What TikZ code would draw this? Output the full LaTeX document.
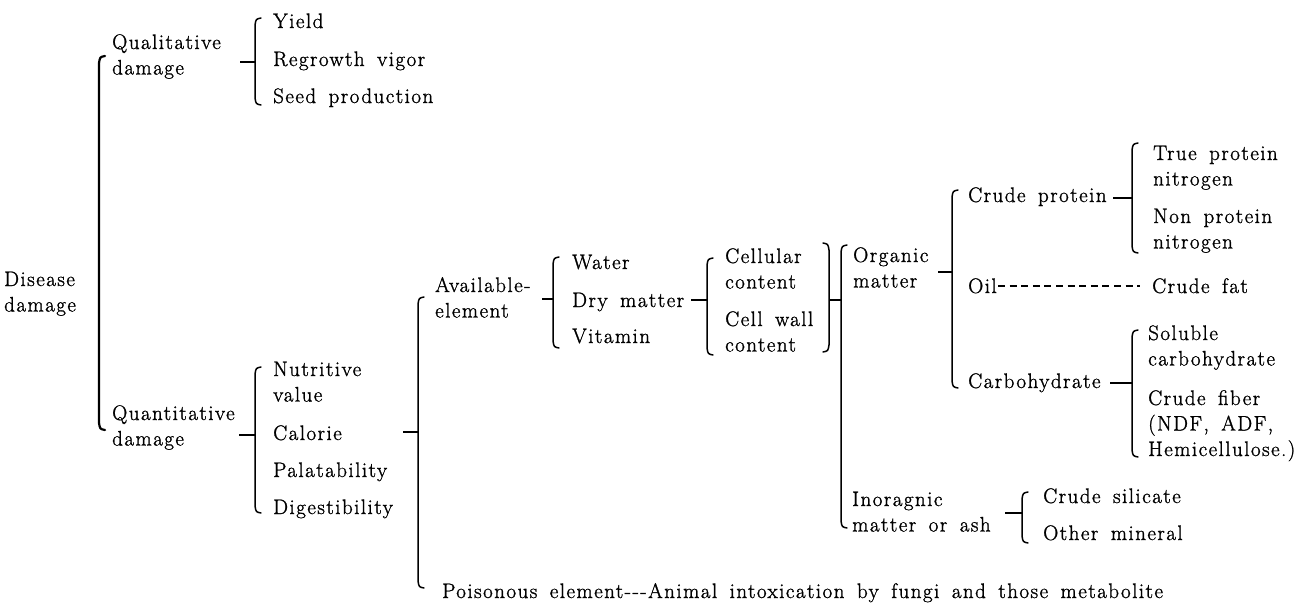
\documentclass[tikz,border=0pt]{standalone}
\usepackage{fontspec}
\setmainfont{Latin Modern Roman}[LetterSpace=7, WordSpace=1.6, FakeBold=1.2]
\newcommand\mlines[1]{\begin{tabular}[t]{@{}l@{}}#1\end{tabular}}
\newcommand\lbrk[3]{\draw[brk] ({#1+6},{#2}) .. controls ({#1+1},{#2+1}) .. ({#1},{#2+7}) -- ({#1},{#3-7}) .. controls ({#1+1},{#3-1}) .. ({#1+6},{#3});}
\newcommand\rbrk[3]{\draw[brk] ({#1-6},{#2}) .. controls ({#1-1},{#2+1}) .. ({#1},{#2+7}) -- ({#1},{#3-7}) .. controls ({#1-1},{#3-1}) .. ({#1-6},{#3});}
\tikzset{
  txt/.style={anchor=base west, inner sep=0pt, font=\fontsize{21}{25.5}\selectfont},
  brk/.style={line width=1.5pt, line cap=round},
  tick/.style={line width=1.5pt},
}
\begin{document}
\begin{tikzpicture}[x=1pt,y=-1pt]
\useasboundingbox[fill=white] (0,0) rectangle (1298,608);
% level 0
\node[txt] (dis) at (4,286) {\mlines{Disease\\damage}};
\draw[brk, line width=2.2pt] (105,56) .. controls (100,57) .. (99,63) -- (99,423) .. controls (100,429) .. (105,430);
% qualitative
\node[txt] (qual) at (112,49) {\mlines{Qualitative\\damage}};
\coordinate (qualt) at (240,62);
\coordinate (b2m) at (255,62);
\draw[tick] (qualt) -- (b2m);
\lbrk{255}{18}{105}
\node[txt] (yield) at (273,28) {Yield};
\node[txt] (regr) at (273,66) {Regrowth vigor};
\node[txt] (seed) at (273,103) {Seed production};
% quantitative
\node[txt] (quan) at (112,420) {\mlines{Quantitative\\damage}};
\coordinate (quant) at (239,435);
\coordinate (b3m) at (255,435);
\draw[tick] (quant) -- (b3m);
\lbrk{255}{367}{513}
\node[txt] (nutr) at (273,376) {\mlines{Nutritive\\value}};
\node[txt] (calo) at (273,440) {Calorie};
\node[txt] (pala) at (273,477) {Palatability};
\node[txt] (dige) at (273,514) {Digestibility};
\coordinate (b3r) at (403,432);
\coordinate (b4m) at (418,432);
\draw[tick] (b3r) -- (b4m);
\lbrk{418}{297}{588}
% available element
\node[txt] (avail) at (435,292) {\mlines{Available-\\element}};
\coordinate (availt) at (542,299);
\coordinate (b5m) at (553,299);
\draw[tick] (availt) -- (b5m);
\lbrk{553}{257}{348}
\node[txt] (water) at (572,269) {Water};
\node[txt] (dry) at (572,307) {Dry matter};
\node[txt] (vita) at (572,343) {Vitamin};
\coordinate (dryt) at (691,300);
\coordinate (b6m) at (707,300);
\draw[tick] (dryt) -- (b6m);
\lbrk{707}{258}{355}
\node[txt] (cell) at (725,263) {\mlines{Cellular\\content}};
\node[txt] (wall) at (725,326) {\mlines{Cell wall\\content}};
\rbrk{829}{243}{352}
\coordinate (rbm) at (829,300);
\coordinate (b7m) at (841,300);
\draw[tick] (rbm) -- (b7m);
\lbrk{841}{245}{528}
% organic matter
\node[txt] (org) at (853,262) {\mlines{Organic\\matter}};
\coordinate (orgt) at (938,272);
\coordinate (b8m) at (952,272);
\draw[tick] (orgt) -- (b8m);
\lbrk{952}{190}{388}
\node[txt] (cp) at (968,202) {Crude protein};
\node[txt] (oil) at (968,293) {Oil};
\node[txt] (carb) at (968,388) {Carbohydrate};
\coordinate (cpt) at (1113,198);
\coordinate (b9m) at (1132,198);
\draw[tick] (cpt) -- (b9m);
\lbrk{1132}{143}{253}
\node[txt] (tpn) at (1153,160) {\mlines{True protein\\nitrogen}};
\node[txt] (npn) at (1153,223) {\mlines{Non protein\\nitrogen}};
\node[txt] (fat) at (1152,293) {Crude fat};
\coordinate (oile) at (998,286);
\coordinate (fats) at (1140,286);
\draw[line width=1.3pt, dash pattern=on 7pt off 4.6pt] (oile) -- (fats);
\coordinate (carbt) at (1110,383);
\coordinate (b10m) at (1132,383);
\draw[tick] (carbt) -- (b10m);
\lbrk{1132}{330}{457}
\node[txt] (sol) at (1148,340) {\mlines{Soluble\\carbohydrate}};
\node[txt] (fib) at (1148,405) {\mlines{Crude fiber\\(NDF, ADF,\\Hemicellulose.)}};
% inorganic
\node[txt] (inorg) at (852,506) {\mlines{Inoragnic\\matter or ash}};
\coordinate (inorgt) at (1005,513);
\coordinate (b11m) at (1022,513);
\draw[tick] (inorgt) -- (b11m);
\lbrk{1022}{492}{543}
\node[txt] (sil) at (1043,503) {Crude silicate};
\node[txt] (min) at (1043,540) {Other mineral};
% poisonous
\node[txt] (pois) at (442,598) {Poisonous element-{}-{}-Animal intoxication by fungi and those metabolite};
\end{tikzpicture}
\end{document}
